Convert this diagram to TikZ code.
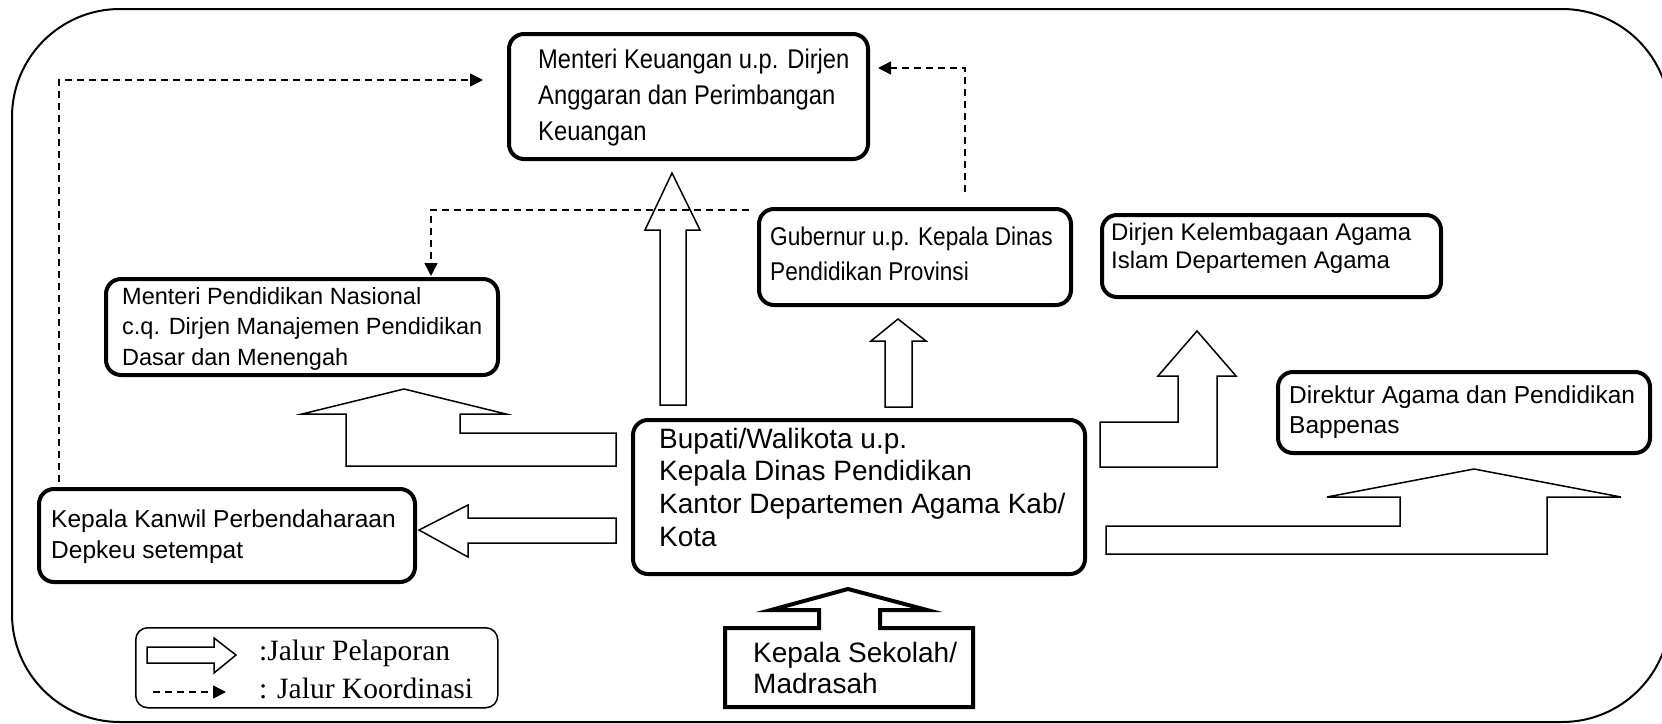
\documentclass[tikz,border=0pt]{standalone}
\usepackage{fontspec}
\setmainfont{Liberation Sans}
\newfontfamily\narrowfont[FakeStretch=0.88]{Liberation Sans}
\newfontfamily\legfont{Liberation Serif}
\usetikzlibrary{arrows.meta}
\newcommand{\blocktxt}[4]{\parbox[t]{560pt}{\raggedright #1\fontsize{#2}{#3}\selectfont #4}}
\begin{document}
\begin{tikzpicture}[x=1pt,y=-1pt,
  bx/.style={draw, line width=4pt, rounded corners=15pt, inner sep=0pt, anchor=north west},
  blk/.style={draw, line width=1.5pt, fill=white, line join=miter},
  dsh/.style={line width=1.5pt, dash pattern=on 7pt off 5pt, -{Triangle[length=13pt,width=13pt]}},
  tx/.style={anchor=base west, inner sep=0pt}]
\useasboundingbox (0,0) rectangle (1662,723);
\fill[white] (0,0) rectangle (1662,723);
% outer frame
\draw[line width=2pt, rounded corners=108pt] (12,9) rectangle (1670,722);

% boxes
\node[bx, minimum width=359pt, minimum height=125pt] (mk) at (507,32) {};
\node[bx, minimum width=312pt, minimum height=96pt] (gub) at (757,207) {};
\node[bx, minimum width=339pt, minimum height=82pt] (dirjen) at (1100,213) {};
\node[bx, minimum width=392pt, minimum height=96pt] (mp) at (104,277) {};
\node[bx, minimum width=372pt, minimum height=81pt] (direktur) at (1276,370) {};
\node[bx, minimum width=452pt, minimum height=154pt] (bupati) at (631,418) {};
\node[bx, minimum width=376pt, minimum height=93pt] (kanwil) at (37,487) {};

% box texts
\node[tx] (mkt) at (538,68) {\blocktxt{\narrowfont}{27}{36}{Menteri Keuangan u.p. Dirjen\\Anggaran dan Perimbangan\\Keuangan}};
\node[tx] (gubt) at (770,245) {\blocktxt{\narrowfont}{25.7}{35}{Gubernur u.p. Kepala Dinas\\Pendidikan Provinsi}};
\node[tx] (dirjent) at (1111,240) {\blocktxt{}{24}{28}{Dirjen Kelembagaan Agama\\Islam Departemen Agama}};
\node[tx] (mpt) at (122,304) {\blocktxt{}{23.5}{30.5}{Menteri Pendidikan Nasional\\c.q. Dirjen Manajemen Pendidikan\\Dasar dan Menengah}};
\node[tx] (direkturt) at (1289,403) {\blocktxt{}{24.5}{30}{Direktur Agama dan Pendidikan\\Bappenas}};
\node[tx] (bupatit) at (659,448) {\blocktxt{}{28}{32.8}{Bupati/Walikota u.p.\\Kepala Dinas Pendidikan\\Kantor Departemen Agama Kab/\\Kota}};
\node[tx] (kanwilt) at (51,527) {\blocktxt{}{24.5}{31}{Kepala Kanwil Perbendaharaan\\Depkeu setempat}};

% block arrows (jalur pelaporan)
\draw[blk] (660,405) -- (660,230) -- (645,230) -- (672,173) -- (700,230) -- (686,230) -- (686,405) -- cycle;
\draw[blk] (885,407) -- (885,341) -- (871,341) -- (898,319) -- (926,341) -- (912,341) -- (912,407) -- cycle;
\draw[blk] (616,433) -- (460,433) -- (460,414) -- (506,414) -- (404,389) -- (302,414) -- (346,414) -- (346,466) -- (616,466) -- cycle;
\draw[blk] (616,518) -- (468,518) -- (468,505) -- (419,530) -- (468,557) -- (468,543) -- (616,543) -- cycle;
\draw[blk] (1100,422) -- (1178,422) -- (1178,376) -- (1158,376) -- (1197,331) -- (1236,376) -- (1217,376) -- (1217,467) -- (1100,467) -- cycle;
\draw[blk] (1106,526) -- (1400,526) -- (1400,497) -- (1327,497) -- (1474,469) -- (1621,497) -- (1547,497) -- (1547,554) -- (1106,554) -- cycle;

% Kepala Sekolah
\draw[line width=4pt, line join=miter, fill=white] (725,707) -- (725,628) -- (819,628) -- (819,610) -- (771,610) -- (848,589) -- (927,610) -- (880,610) -- (880,628) -- (973,628) -- (973,707) -- cycle;
\node[tx] (ks) at (753,662) {\blocktxt{}{28}{31}{Kepala Sekolah/\\Madrasah}};

% coordination lines
\coordinate (d1a) at (59,482);
\coordinate (d1b) at (483,80);
\coordinate (d2a) at (965,192);
\coordinate (d2b) at (878,68);
\coordinate (d3a) at (749,210);
\coordinate (d3b) at (431,276);
\draw[dsh] (d1a) |- (d1b);
\draw[dsh] (d2a) |- (d2b);
\draw[dsh] (d3a) -| (d3b);

% legend
\node[draw, line width=1.5pt, rounded corners=12pt, minimum width=362pt, minimum height=80pt, anchor=north west, inner sep=0pt] (leg) at (135,627) {};
\draw[blk] (147,647) -- (214,647) -- (214,638) -- (236,655) -- (214,673) -- (214,663) -- (147,663) -- cycle;
\coordinate (la) at (153,692);
\coordinate (lb) at (226,692);
\draw[dsh] (la) -- (lb);
\node[tx] (leg1) at (259,660) {\legfont\fontsize{29.5}{36}\selectfont :Jalur Pelaporan};
\node[tx] (leg2) at (259,698) {\legfont\fontsize{29.5}{36}\selectfont : Jalur Koordinasi};
\end{tikzpicture}
\end{document}
